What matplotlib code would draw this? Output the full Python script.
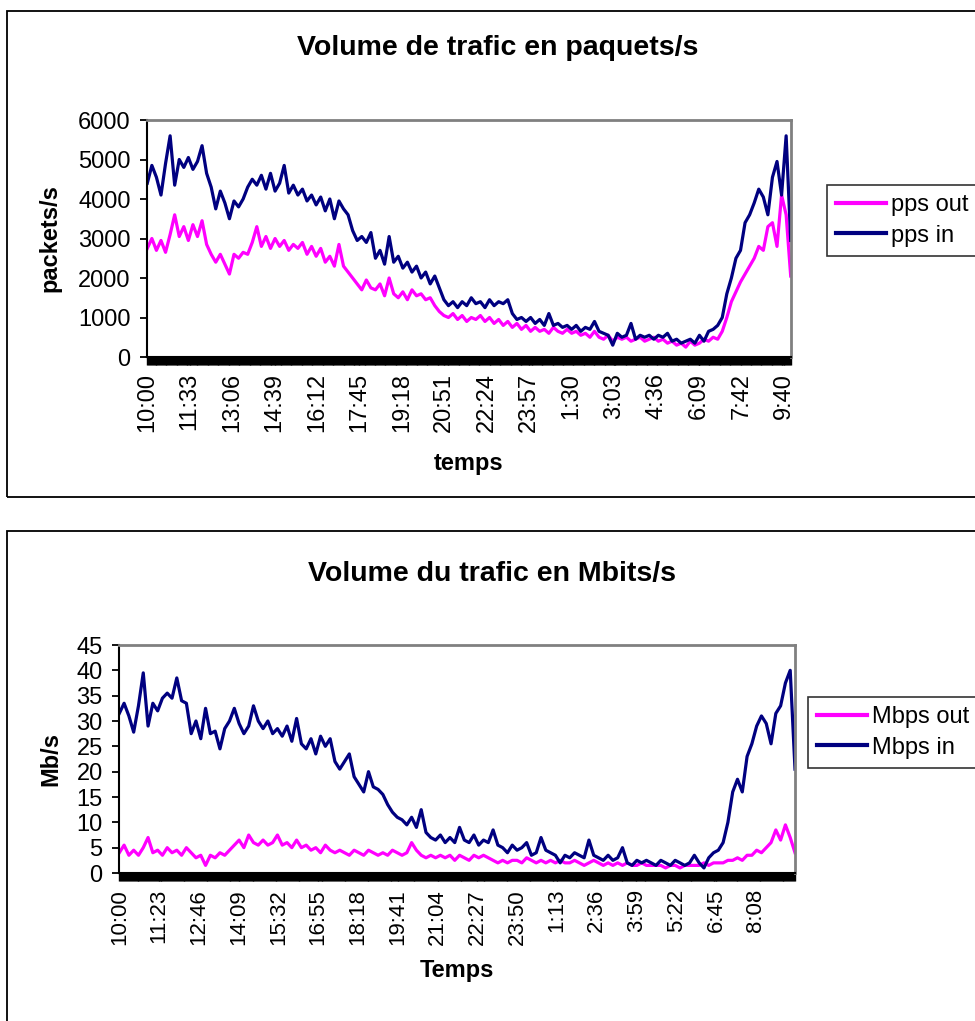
import numpy as np
import matplotlib
matplotlib.use("Agg")
import matplotlib.pyplot as plt
from matplotlib.patches import Rectangle

plt.rcParams['font.family'] = ['Liberation Sans', 'DejaVu Sans']

# one sample every 10 minutes (category index step)
step = 10

pps_out = [2750, 3000, 2700, 2950, 2650, 3100, 3600, 3050, 3300, 2950,
           3350, 3050, 3450, 2850, 2600, 2400, 2600, 2350, 2100, 2600,
           2500, 2650, 2600, 2900, 3300, 2800, 3050, 2750, 3000, 2800,
           2950, 2700, 2850, 2750, 2900, 2600, 2800, 2550, 2750, 2400,
           2550, 2300, 2850, 2300, 2150, 2000, 1850, 1700, 1950, 1750,
           1700, 1850, 1550, 2000, 1600, 1500, 1650, 1450, 1700, 1550,
           1600, 1450, 1500, 1300, 1150, 1050, 1000, 1100, 950, 1050,
           900, 1000, 950, 1050, 900, 1000, 850, 950, 800, 900,
           750, 850, 700, 800, 650, 750, 650, 700, 600, 750,
           650, 600, 700, 600, 650, 550, 600, 500, 650, 500,
           450, 550, 400, 500, 450, 500, 400, 450, 500, 400,
           450, 500, 400, 450, 350, 400, 300, 350, 250, 400,
           300, 350, 450, 400, 500, 450, 650, 1000, 1400, 1650,
           1900, 2100, 2300, 2500, 2800, 2700, 3300, 3400, 2800, 4100,
           3600, 2050]

pps_in = [4400, 4850, 4550, 4100, 4900, 5600, 4350, 5000, 4800, 5050,
          4750, 4950, 5350, 4650, 4300, 3750, 4200, 3900, 3500, 3950,
          3800, 4000, 4300, 4500, 4350, 4600, 4250, 4650, 4200, 4400,
          4850, 4150, 4350, 4100, 4250, 3950, 4100, 3850, 4050, 3700,
          4000, 3500, 3950, 3750, 3600, 3200, 2950, 3050, 2900, 3150,
          2500, 2700, 2350, 3050, 2400, 2550, 2250, 2400, 2150, 2300,
          2000, 2150, 1850, 2050, 1750, 1450, 1300, 1400, 1250, 1400,
          1300, 1500, 1350, 1400, 1250, 1450, 1300, 1400, 1350, 1450,
          1100, 950, 1000, 900, 1000, 850, 950, 800, 1100, 800,
          850, 750, 800, 700, 800, 650, 750, 700, 900, 650,
          600, 550, 300, 600, 500, 550, 850, 450, 550, 500,
          550, 450, 550, 500, 600, 400, 450, 350, 400, 450,
          350, 550, 400, 650, 700, 800, 1000, 1600, 2000, 2500,
          2700, 3400, 3600, 3900, 4250, 4050, 3600, 4550, 4950, 4100,
          5600, 2950]

mbps_out = [4, 5.5, 3.5, 4.5, 3.5, 5, 7, 4, 4.5, 3.5,
            5, 4, 4.5, 3.5, 5, 4, 3, 3.5, 1.5, 3.5,
            3, 4, 3.5, 4.5, 5.5, 6.5, 5, 7.5, 6, 5.5,
            6.5, 5.5, 6, 7.5, 5.5, 6, 5, 6.5, 5, 5.5,
            4.5, 5, 4, 5.5, 4.5, 4, 4.5, 4, 3.5, 4.5,
            4, 3.5, 4.5, 4, 3.5, 4, 3.5, 4.5, 4, 3.5,
            4, 6, 4.5, 3.5, 3, 3.5, 3, 3.5, 3, 3.5,
            2.5, 3.5, 3, 2.5, 3.5, 3, 3.5, 3, 2.5, 2,
            2.5, 2, 2.5, 2.5, 2, 3, 2.5, 2, 2.5, 2,
            2.5, 2, 2.5, 2, 2, 2.5, 2, 1.5, 2, 2.5,
            2, 1.5, 2, 1.5, 2, 1.5, 2, 1.5, 1.5, 2,
            1.5, 1.5, 1.5, 1.5, 1, 1.5, 1.5, 1, 1.5, 1.5,
            1.5, 1.5, 2, 1.5, 2, 2, 2, 2.5, 2.5, 3,
            2.5, 3.5, 3.5, 4.5, 4, 5, 6, 8.5, 6.5, 9.5,
            7, 4]

mbps_in = [31.5, 33.5, 31, 27.8, 33, 39.5, 29, 33.5, 32, 34.5,
           35.5, 34.5, 38.5, 34, 33.5, 27.5, 30, 26.5, 32.5, 27.5,
           28, 24.5, 28.5, 30, 32.5, 29.5, 27.5, 29, 33, 30,
           28.5, 30, 27.5, 28.5, 27, 29, 26, 30.5, 25.5, 24.5,
           26.5, 23.5, 27, 25, 26.5, 22, 20.5, 22, 23.5, 19,
           17.5, 16, 20, 17, 16.5, 15.5, 13.5, 12, 11, 10.5,
           9.5, 11, 9, 12.5, 8, 7, 6.5, 7.5, 6, 7,
           6, 9, 6.5, 6, 7.5, 5.5, 6.5, 6, 8.5, 5.5,
           5, 4, 5.5, 4.5, 5, 6, 3.5, 4, 7, 4.5,
           4, 3.5, 2, 3.5, 3, 4, 3.5, 3, 6.5, 3.5,
           3, 2.5, 3.5, 2.5, 3, 5, 2, 1.5, 2.5, 2,
           2.5, 2, 1.5, 2.5, 2, 1.5, 2.5, 2, 1.5, 2,
           3.5, 2, 1, 3, 4, 4.5, 6, 10, 16, 18.5,
           16, 23, 25.5, 29, 31, 29.5, 25.5, 31.5, 33, 37.5,
           40, 20.5]

top_labels = ["10:00", "11:33", "13:06", "14:39", "16:12", "17:45", "19:18",
              "20:51", "22:24", "23:57", "1:30", "3:03", "4:36", "6:09",
              "7:42", "9:40"]
top_label_step = 93
bottom_labels = ["10:00", "11:23", "12:46", "14:09", "15:32", "16:55", "18:18",
                 "19:41", "21:04", "22:27", "23:50", "1:13", "2:36", "3:59",
                 "5:22", "6:45", "8:08"]
bottom_label_step = 83

C_OUT = "#FF00FF"
C_IN = "#000080"
W, H = 975, 1021

fig = plt.figure(figsize=(W / 100, H / 100), dpi=100)
fig.patch.set_facecolor("white")

# chart frames
fig.patches.append(Rectangle((7 / W, 1 - 497 / H), 1.2, (497 - 11) / H,
                             transform=fig.transFigure, fill=False,
                             edgecolor="black", lw=1.3))
fig.patches.append(Rectangle((7 / W, -0.2), 1.2, 0.2 + (1 - 531 / H),
                             transform=fig.transFigure, fill=False,
                             edgecolor="black", lw=1.3))


def make_axes(x0, x1, ytop, ybot):
    return fig.add_axes([x0 / W, 1 - ybot / H, (x1 - x0) / W, (ybot - ytop) / H])


def style(ax, ymax, ystep, labels, lstep, n, xfs, yfs):
    xmax = (n - 1) * step
    ax.set_xlim(0, xmax)
    ax.set_ylim(0, ymax)
    ax.set_yticks(np.arange(0, ymax + 1, ystep))
    ax.set_xticks(np.arange(len(labels)) * lstep)
    ax.set_xticklabels(labels, rotation=90, fontsize=xfs)
    ax.set_xticks(np.arange(0, xmax + 1, 2), minor=True)
    ax.tick_params(axis="x", which="both", direction="out", length=5.5,
                   width=1.0, color="black", pad=6)
    ax.tick_params(axis="y", which="major", direction="out", length=5,
                   width=1.3, color="black", labelsize=yfs, pad=7)
    for s in ("top", "right"):
        ax.spines[s].set_color("#808080")
        ax.spines[s].set_linewidth(2)
    for s in ("left", "bottom"):
        ax.spines[s].set_color("black")
        ax.spines[s].set_linewidth(1.5)


def legend(ax, x, y):
    leg = ax.legend(loc="upper left", bbox_to_anchor=(x / W, 1 - y / H),
                    bbox_transform=fig.transFigure, fontsize=17, frameon=True,
                    fancybox=False, borderaxespad=0, borderpad=0.4,
                    handlelength=2.1, handletextpad=0.2, labelspacing=0.35)
    leg.get_frame().set_edgecolor("black")
    leg.get_frame().set_linewidth(1.2)
    for l in leg.get_lines():
        l.set_linewidth(3)
    return leg


# ---- top chart ----
ax1 = make_axes(147.3, 790.7, 120, 357)
x1 = np.arange(len(pps_in)) * step
ax1.plot(x1, pps_out, color=C_OUT, lw=2.3, label="pps out")
ax1.plot(x1, pps_in, color=C_IN, lw=2.3, label="pps in")
style(ax1, 6000, 1000, top_labels, top_label_step, len(pps_in), 17, 17)
ax1.set_ylabel("packets/s", fontsize=17, fontweight="bold", labelpad=12)
ax1.set_xlabel("temps", fontsize=17, fontweight="bold", labelpad=14)
fig.text(498 / W, 1 - 48 / H, "Volume de trafic en paquets/s", ha="center",
         va="center", fontsize=20.5, fontweight="bold")
legend(ax1, 827, 185)

# ---- bottom chart ----
ax2 = make_axes(119.3, 795, 645, 873)
x2 = np.arange(len(mbps_in)) * step
ax2.plot(x2, mbps_out, color=C_OUT, lw=2.3, label="Mbps out")
ax2.plot(x2, mbps_in, color=C_IN, lw=2.3, label="Mbps in")
style(ax2, 45, 5, bottom_labels, bottom_label_step, len(mbps_in), 16, 17)
ax2.set_ylabel("Mb/s", fontsize=17, fontweight="bold", labelpad=10)
ax2.set_xlabel("Temps", fontsize=17, fontweight="bold", labelpad=10)
fig.text(492 / W, 1 - 574 / H, "Volume du trafic en Mbits/s", ha="center",
         va="center", fontsize=20.5, fontweight="bold")
legend(ax2, 808, 697)

fig.savefig("out.png", dpi=100, facecolor="white")
